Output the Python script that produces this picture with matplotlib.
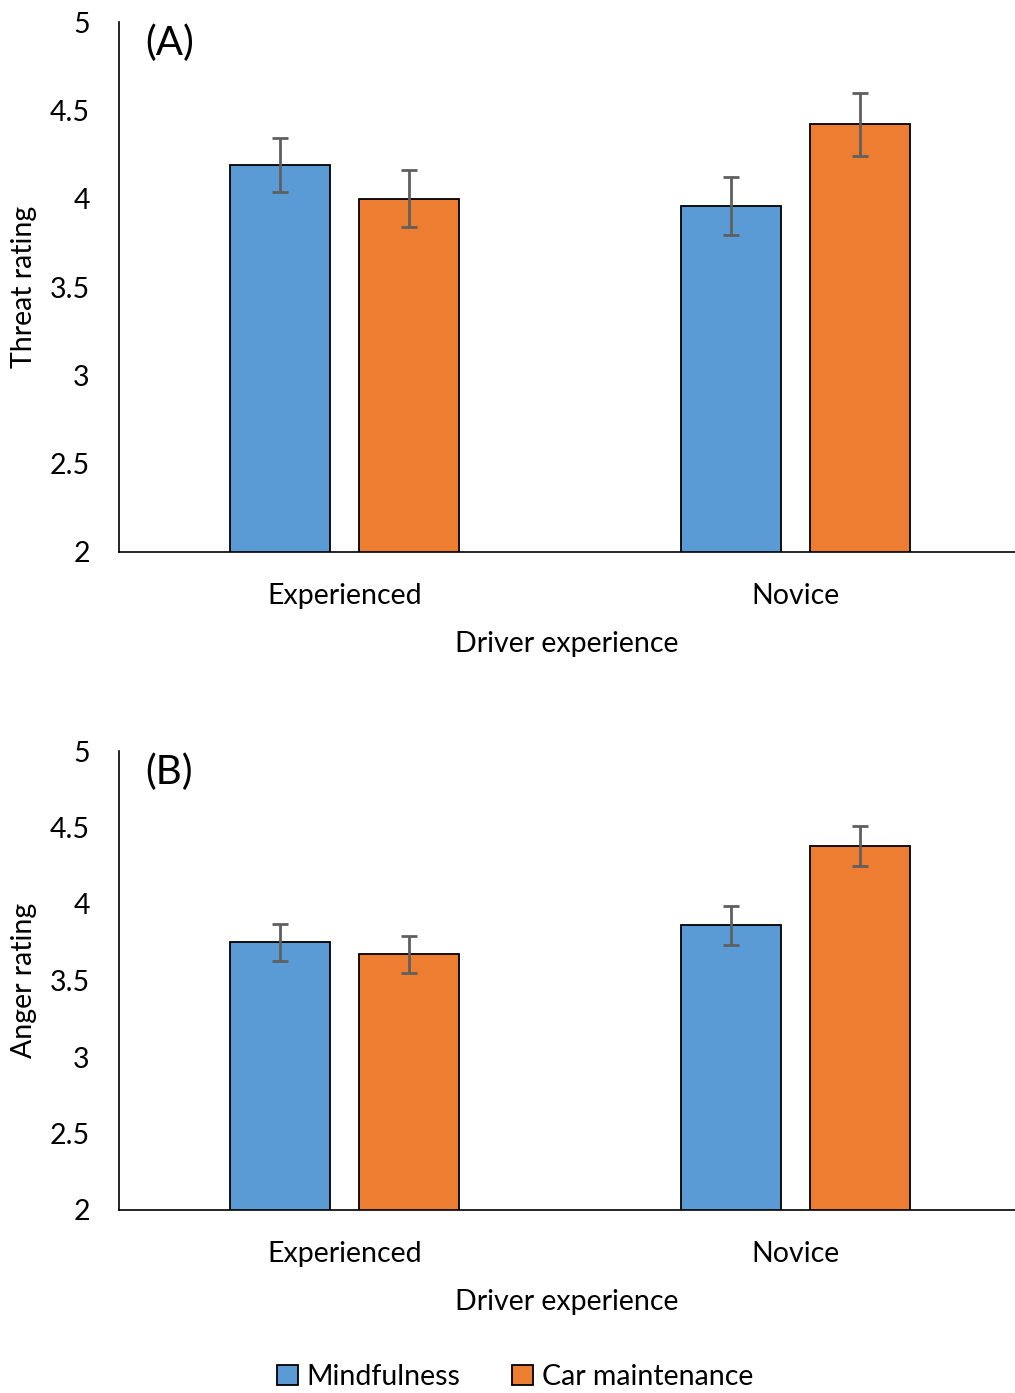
import numpy as np
import matplotlib.pyplot as plt
from matplotlib.patches import Patch

plt.rcParams['font.family'] = ['Lato', 'DejaVu Sans']

groups = ['Experienced', 'Novice']
series = ['Mindfulness', 'Car maintenance']
colors = ['#5B9BD5', '#ED7D31']

# panel A: threat rating
threat_mind = [4.19, 3.96]
threat_car = [4.00, 4.42]
threat_mind_err = [0.155, 0.165]
threat_car_err = [0.16, 0.18]

# panel B: anger rating
anger_mind = [3.75, 3.86]
anger_car = [3.67, 4.38]
anger_mind_err = [0.12, 0.125]
anger_car_err = [0.12, 0.13]

W, H = 1015, 1393
fig = plt.figure(figsize=(W / 100, H / 100), dpi=100)
FS = 20.5

def panel(top, bottom, label, ylab, mind, car, merr, cerr):
    ax = fig.add_axes([119 / W, (H - bottom) / H, 896 / W, (bottom - top) / H])
    x = np.arange(len(groups))
    bw = 0.222
    off = 0.143
    ekw = dict(ecolor='#5f5f5f', elinewidth=2, capsize=6, capthick=2)
    ax.bar(x - off, mind, bw, color=colors[0], edgecolor='black', linewidth=1.3,
           yerr=merr, error_kw=ekw)
    ax.bar(x + off, car, bw, color=colors[1], edgecolor='black', linewidth=1.3,
           yerr=cerr, error_kw=ekw)
    ax.set_xlim(-0.501, 1.486)
    ax.set_ylim(2, 5)
    ax.set_yticks([2, 2.5, 3, 3.5, 4, 4.5, 5])
    ax.set_yticklabels(['2', '2.5', '3', '3.5', '4', '4.5', '5'])
    ax.set_xticks(x)
    ax.set_xticklabels(groups)
    ax.tick_params(axis='y', length=0, pad=21, labelsize=FS)
    ax.tick_params(axis='x', length=0, pad=22, labelsize=FS)
    ax.spines['top'].set_visible(False)
    ax.spines['right'].set_visible(False)
    ax.spines['left'].set_linewidth(1.2)
    ax.spines['bottom'].set_linewidth(1.2)
    ax.set_xlabel('Driver experience', fontsize=FS, labelpad=16)
    ax.set_ylabel(ylab, fontsize=FS, labelpad=9)
    ax.text(0.029, 0.995, label, transform=ax.transAxes, fontsize=29, va='top', ha='left')
    return ax

panel(22, 552, '(A)', 'Threat rating', threat_mind, threat_car, threat_mind_err, threat_car_err)
panel(751, 1210, '(B)', 'Anger rating', anger_mind, anger_car, anger_mind_err, anger_car_err)

handles = [Patch(facecolor=c, edgecolor='black', linewidth=1.3) for c in colors]
fig.legend(handles, series, loc='center', bbox_to_anchor=(515 / W, 1 - 1377 / H), ncol=2,
           frameon=False, fontsize=FS, handlelength=0.75, handleheight=0.75,
           handletextpad=0.3, columnspacing=1.8)

fig.savefig('out.png', dpi=100)
